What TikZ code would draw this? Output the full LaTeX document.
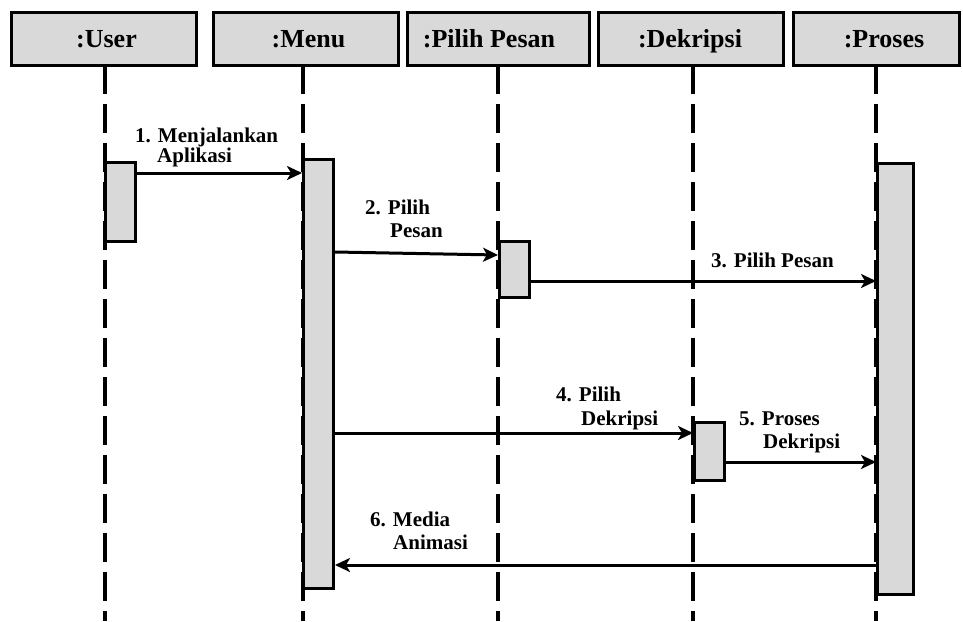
\documentclass[tikz,border=0pt]{standalone}
\usepackage{fontspec}
\setmainfont{Liberation Serif}
\usetikzlibrary{arrows.meta}
\definecolor{boxgray}{RGB}{217,217,217}
\begin{document}
\begin{tikzpicture}[x=1pt,y=-1pt,
  header/.style={draw, line width=3pt, fill=boxgray, inner sep=0pt,
    minimum height=53pt, anchor=north west},
  headtext/.style={font=\fontsize{26}{26}\selectfont\bfseries, inner sep=0pt, anchor=base},
  lifeline/.style={line width=4pt, dash pattern=on 29pt off 10pt, dash phase=2pt},
  act/.style={draw, line width=3pt, fill=boxgray, inner sep=0pt, anchor=north west},
  msg/.style={line width=3pt, -{Stealth[length=15pt,width=14pt,inset=4pt]}},
  lbl/.style={font=\fontsize{21}{21}\selectfont\bfseries, inner sep=0pt, anchor=base west}]
\useasboundingbox (0,0) rectangle (963,621);

% object headers
\node[header, minimum width=185pt] (hU) at (10,11) {};
\node[header, minimum width=185pt] (hM) at (212,11) {};
\node[header, minimum width=182pt] (hP) at (406,11) {};
\node[header, minimum width=185pt] (hD) at (597,11) {};
\node[header, minimum width=166pt] (hR) at (792,11) {};
\node[headtext] (tU) at (106.5,47) {:User};
\node[headtext] (tM) at (308.5,47) {:Menu};
\node[headtext] (tP) at (489,47) {:Pilih Pesan};
\node[headtext] (tD) at (690,47) {:Dekripsi};
\node[headtext] (tR) at (884,47) {:Proses};

% lifeline columns
\coordinate (xU) at (105,621);
\coordinate (xM) at (303,621);
\coordinate (xP) at (498,621);
\coordinate (xD) at (693,621);
\coordinate (xR) at (876,621);
\draw[lifeline] (hU.south -| xU) -- (xU);
\draw[lifeline] (hM.south -| xM) -- (xM);
\draw[lifeline] (hP.south -| xP) -- (xP);
\draw[lifeline] (hD.south -| xD) -- (xD);
\draw[lifeline] (hR.south -| xR) -- (xR);

% activation bars
\node[act, minimum width=30pt, minimum height=79pt] (aU) at (104,161) {};
\node[act, minimum width=30pt, minimum height=429pt] (aM) at (302,158) {};
\node[act, minimum width=30pt, minimum height=56pt] (aP) at (498,240) {};
\node[act, minimum width=30pt, minimum height=58pt] (aD) at (693,421) {};
\node[act, minimum width=36pt, minimum height=431pt] (aR) at (876,162) {};

% message levels
\coordinate (m1) at (0,173);
\coordinate (m2a) at (0,252);
\coordinate (m2b) at (0,255);
\coordinate (m3) at (0,281);
\coordinate (m4) at (0,433);
\coordinate (m5) at (0,462);
\coordinate (m6) at (0,565);

% messages
\draw[msg] (aU.east |- m1) -- (aM.west |- m1);
\draw[msg] (aM.east |- m2a) -- (aP.west |- m2b);
\draw[msg] (aP.east |- m3) -- (aR.west |- m3);
\draw[msg] (aM.east |- m4) -- (aD.west |- m4);
\draw[msg] (aD.east |- m5) -- (aR.west |- m5);
\draw[msg] (aR.west |- m6) -- (aM.east |- m6);

% message labels
\node[lbl] (l1a) at (135,142) {1. Menjalankan};
\node[lbl] (l1b) at (157,162) {Aplikasi};
\node[lbl] (l2a) at (365,214) {2. Pilih};
\node[lbl] (l2b) at (390,237) {Pesan};
\node[lbl] (l3) at (711,267) {3. Pilih Pesan};
\node[lbl] (l4a) at (556,401) {4. Pilih};
\node[lbl] (l4b) at (581,425) {Dekripsi};
\node[lbl] (l5a) at (739,425) {5. Proses};
\node[lbl] (l5b) at (763,448) {Dekripsi};
\node[lbl] (l6a) at (370,526) {6. Media};
\node[lbl] (l6b) at (393,549) {Animasi};
\end{tikzpicture}
\end{document}
